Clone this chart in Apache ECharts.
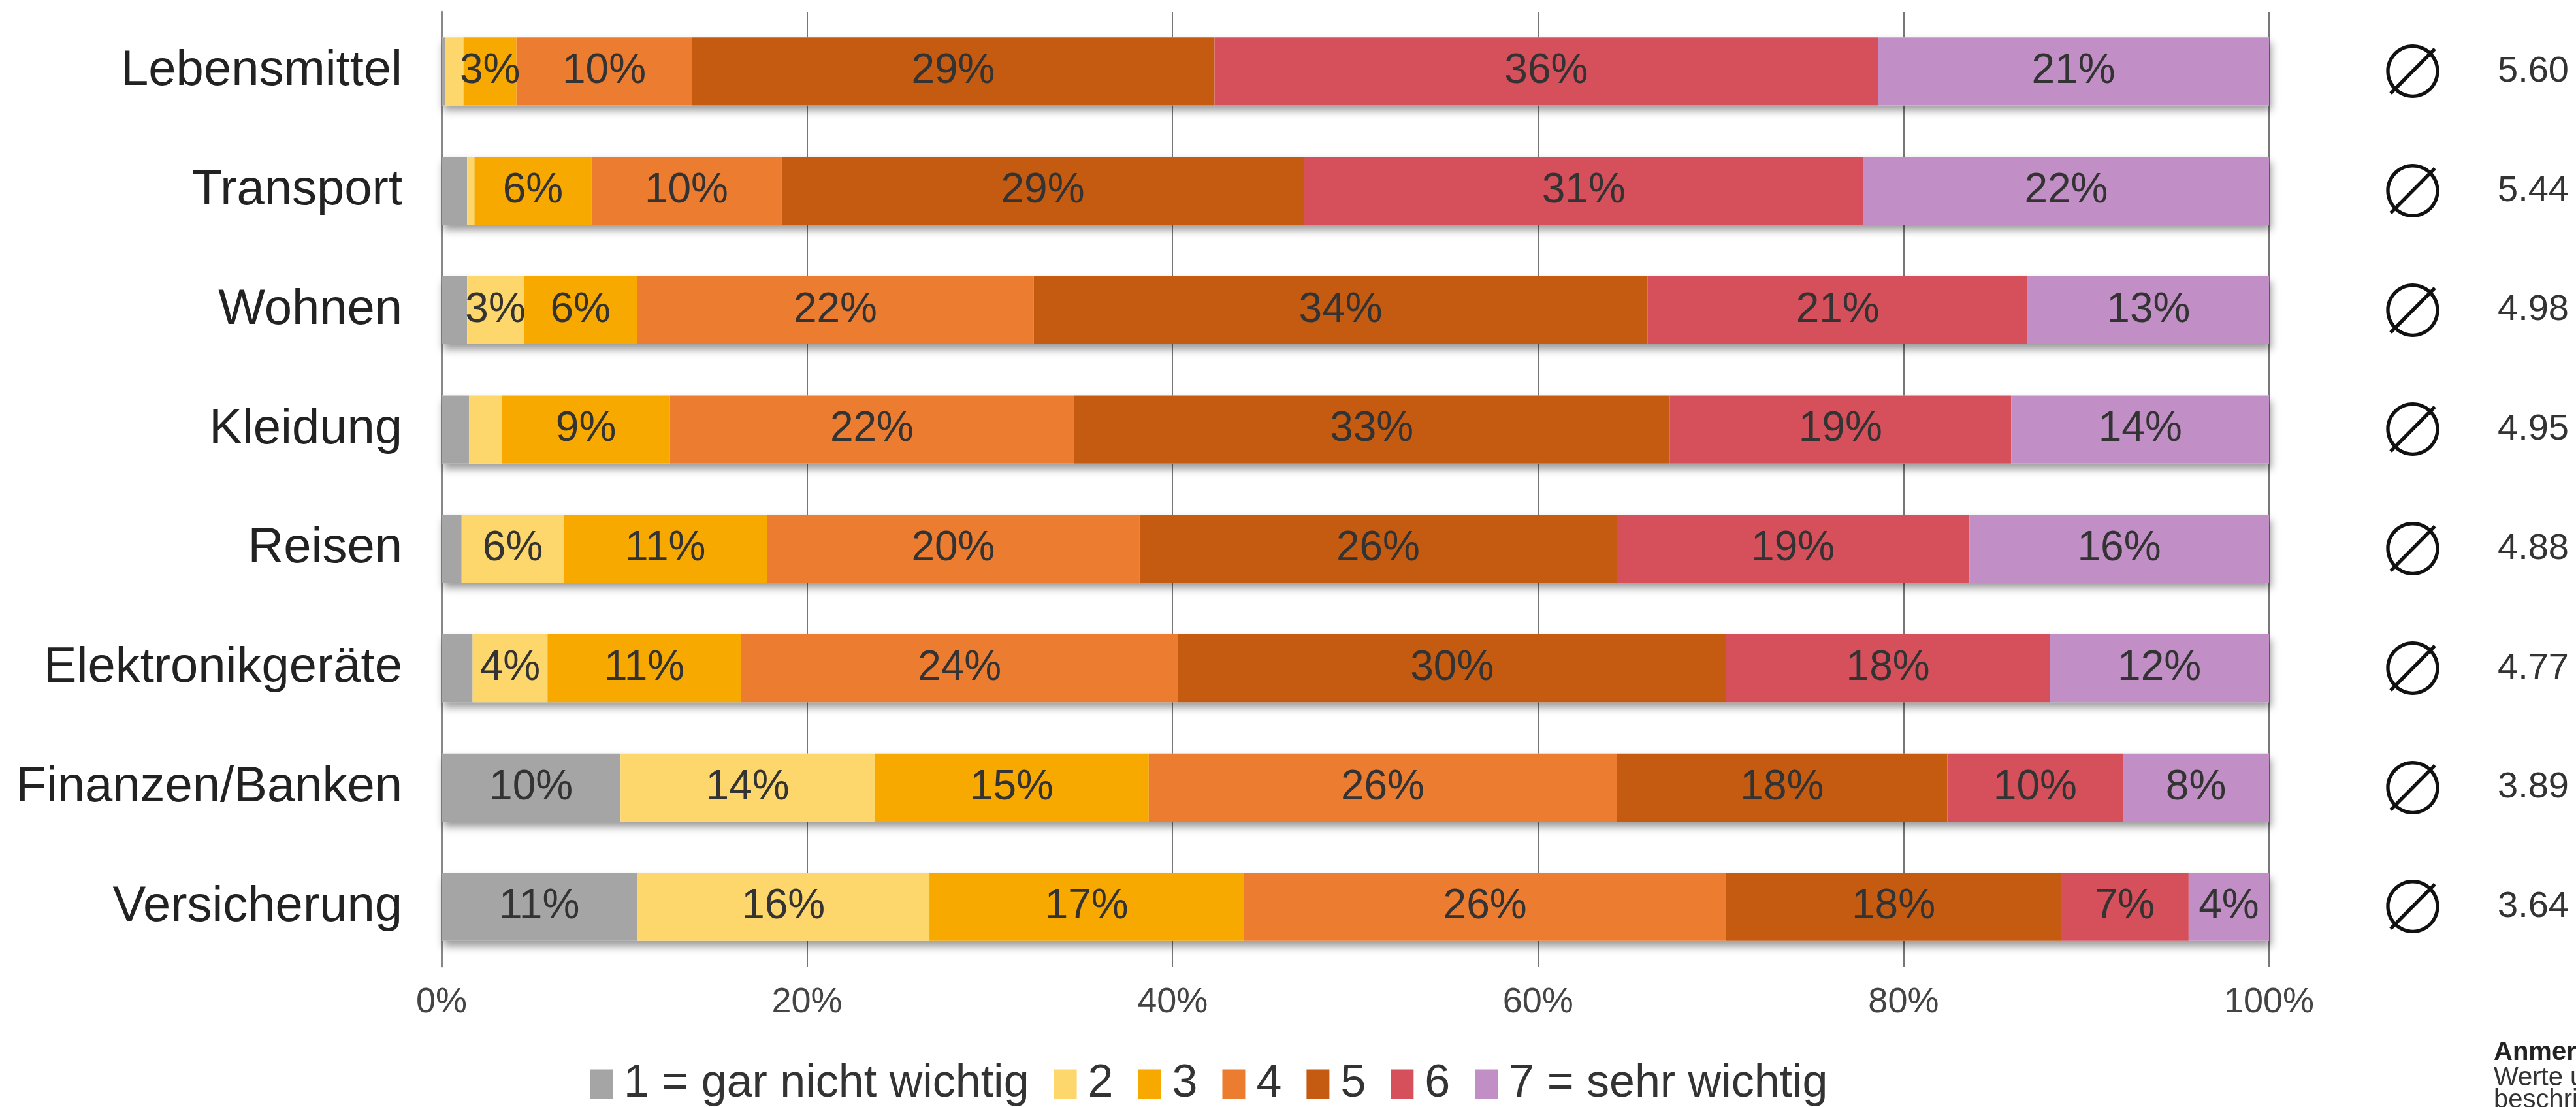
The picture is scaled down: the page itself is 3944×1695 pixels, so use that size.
<!DOCTYPE html>
<html>
<head>
<meta charset="utf-8">
<script src="https://cdn.jsdelivr.net/npm/echarts@6/dist/echarts.min.js"></script>
<style>
  html, body { margin: 0; padding: 0; background: #fff; }
  #main { width: 3944px; height: 1695px; }
</style>
</head>
<body>
<div id="main"></div>
<script>
// Kategorien (von oben nach unten)
var categories = ['Lebensmittel', 'Transport', 'Wohnen', 'Kleidung', 'Reisen', 'Elektronikgeräte', 'Finanzen/Banken', 'Versicherung'];
// Mittelwerte rechts
var means = [5.60, 5.44, 4.98, 4.95, 4.88, 4.77, 3.89, 3.64];

var legendNames = ['1 = gar nicht wichtig', '2', '3', '4', '5', '6', '7 = sehr wichtig'];
var colors = ['#a5a5a5', '#fdd66c', '#f8a900', '#ec7c30', '#c55a11', '#d5505a', '#c18fc5'];

// Anteile je Stufe in %
var s1 = [0.2, 1.4, 1.4, 1.5, 1.1, 1.7, 9.8, 10.7];
var s2 = [1.0, 0.4, 3.1, 1.8, 5.6, 4.1, 13.9, 16.0];
var s3 = [2.9, 6.4, 6.2, 9.2, 11.1, 10.6, 15.0, 17.2];
var s4 = [9.6, 10.4, 21.7, 22.1, 20.4, 23.9, 25.6, 26.4];
var s5 = [28.6, 28.6, 33.6, 32.6, 26.1, 30.0, 18.1, 18.3];
var s6 = [36.3, 30.6, 20.8, 18.7, 19.3, 17.7, 9.6, 7.0];
var s7 = [21.4, 22.2, 13.2, 14.1, 16.4, 12.0, 8.0, 4.4];
var stufen = [s1, s2, s3, s4, s5, s6, s7];

var xTicks = [0, 20, 40, 60, 80, 100];

var fontMain = '"Liberation Sans", Arial, sans-serif';

var chart = echarts.init(document.getElementById('main'));

var series = [];
// Hintergrundbalken nur fuer den Schatten
series.push({
  name: 'shadow',
  type: 'bar',
  silent: true,
  barWidth: '57%',
  barGap: '-100%',
  data: categories.map(function () { return 100; }),
  itemStyle: {
    color: '#fff',
    shadowColor: 'rgba(0,0,0,0.4)',
    shadowBlur: 12,
    shadowOffsetY: 8,
    shadowOffsetX: 3
  }
});
stufen.forEach(function (arr, i) {
  series.push({
    name: legendNames[i],
    type: 'bar',
    stack: 'total',
    barWidth: '57%',
    barGap: '-100%',
    data: arr,
    itemStyle: { color: colors[i] },
    label: {
      show: true,
      position: 'inside',
      fontFamily: fontMain,
      fontSize: 64,
      color: '#333',
      formatter: function (p) {
        return p.value >= 2.5 ? Math.round(p.value) + '%' : '';
      }
    }
  });
});

var option = {
  backgroundColor: '#fff',
  animation: false,
  color: colors,
  title: {
    left: 3818,
    top: 1594,
    text: 'Anmerkung:',
    textStyle: { fontFamily: fontMain, fontSize: 40, fontWeight: 'bold', color: '#222', lineHeight: 36 },
    subtext: 'Werte unter 3% nicht\nbeschriftet.',
    subtextStyle: { fontFamily: fontMain, fontSize: 40, color: '#333', lineHeight: 34 },
    itemGap: 0,
    padding: 0
  },
  legend: {
    left: 898,
    top: 1620,
    icon: 'rect',
    itemWidth: 35,
    itemHeight: 45,
    itemGap: 38,
    data: legendNames,
    textStyle: {
      fontFamily: fontMain,
      fontSize: 70,
      color: '#333',
      padding: [0, 0, 0, 12]
    }
  },
  grid: {
    left: 676,
    right: 470,
    top: 18,
    bottom: 215,
    containLabel: false
  },
  xAxis: {
    type: 'value',
    min: xTicks[0],
    max: xTicks[xTicks.length - 1],
    interval: 20,
    axisLine: { show: false },
    axisTick: { show: false },
    splitLine: { show: true, lineStyle: { color: '#777', width: 2 } },
    axisLabel: {
      fontFamily: fontMain,
      fontSize: 54,
      color: '#444',
      margin: 28,
      formatter: '{value}%'
    }
  },
  yAxis: [{
    type: 'category',
    inverse: true,
    data: categories,
    axisTick: { show: false },
    axisLine: { show: true, lineStyle: { color: '#888', width: 3 } },
    axisLabel: {
      fontFamily: fontMain,
      fontSize: 76,
      color: '#222',
      margin: 60
    }
  }, {
    type: 'category',
    inverse: true,
    position: 'right',
    data: categories,
    axisTick: { show: false },
    axisLine: { show: false },
    axisLabel: {
      margin: 165,
      formatter: function (v, idx) {
        return '{s|\u2205}{v|' + means[idx].toFixed(2) + '}';
      },
      rich: {
        s: { fontFamily: '"Noto Sans CJK JP", "DejaVu Sans", sans-serif', fontWeight: 300, fontSize: 110, color: '#111' },
        v: { fontFamily: fontMain, fontSize: 56, color: '#333', padding: [0, 0, 0, 75] }
      }
    }
  }],
  series: series
};

chart.setOption(option);
</script>
</body>
</html>
